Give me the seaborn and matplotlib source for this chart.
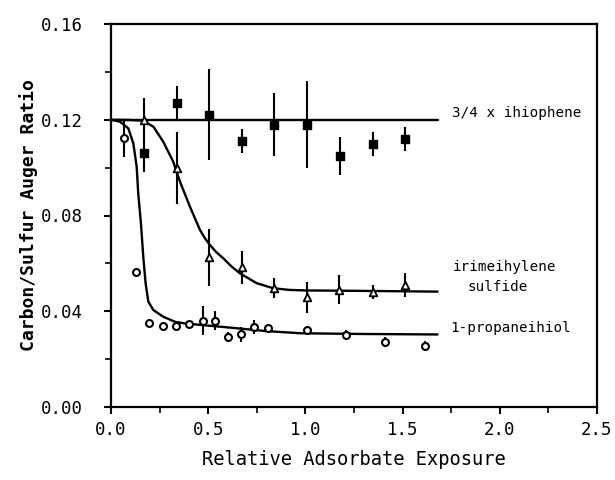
import matplotlib
matplotlib.use("Agg")
import matplotlib.pyplot as plt
import seaborn as sns
from matplotlib.ticker import MultipleLocator, FormatStrFormatter

# ---- data ----
thio_x = [0.171, 0.34, 0.506, 0.672, 0.84, 1.008, 1.18, 1.346, 1.512]
thio_y = [0.106, 0.127, 0.122, 0.111, 0.118, 0.118, 0.105, 0.110, 0.112]
thio_err = [0.008, 0.007, 0.019, 0.005, 0.013, 0.018, 0.008, 0.005, 0.005]

tms_x = [0.171, 0.34, 0.506, 0.672, 0.837, 1.008, 1.175, 1.346, 1.512]
tms_y = [0.120, 0.100, 0.0625, 0.0583, 0.0497, 0.0458, 0.049, 0.048, 0.051]
tms_err = [0.009, 0.015, 0.012, 0.007, 0.004, 0.0065, 0.006, 0.003, 0.005]

prop_x = [0.065, 0.13, 0.198, 0.269, 0.336, 0.403, 0.472, 0.537, 0.604, 0.67,
          0.737, 0.806, 1.008, 1.209, 1.411, 1.615]
prop_y = [0.1125, 0.0565, 0.0352, 0.0338, 0.0338, 0.0347, 0.0361, 0.0361, 0.0293,
          0.0303, 0.0335, 0.0328, 0.032, 0.030, 0.0272, 0.0254]
prop_err = [0.008, 0.0, 0.0, 0.0, 0.0, 0.001, 0.006, 0.004, 0.002, 0.003,
            0.003, 0.002, 0.001, 0.002, 0.002, 0.002]

# fitted curves
thio_fit_x = [0.0, 1.68]
thio_fit_y = [0.12, 0.12]

tms_fit_x = [0.0, 0.1, 0.166, 0.218, 0.269, 0.32, 0.355, 0.406, 0.458, 0.485,
             0.509, 0.54, 0.578, 0.62, 0.664, 0.75, 0.835, 0.92, 1.0, 1.3, 1.68]
tms_fit_y = [0.120, 0.1199, 0.1196, 0.1171, 0.1108, 0.1025, 0.0941, 0.0837,
             0.0739, 0.0703, 0.0677, 0.0648, 0.0621, 0.0587, 0.0558, 0.0517,
             0.0496, 0.0489, 0.0487, 0.0485, 0.0482]

prop_fit_x = [0.0, 0.046, 0.089, 0.115, 0.132, 0.14, 0.154, 0.166, 0.178, 0.192,
              0.218, 0.269, 0.329, 0.381, 0.5, 0.634, 0.8, 0.977, 1.3, 1.68]
prop_fit_y = [0.120, 0.1192, 0.1164, 0.1101, 0.1004, 0.0893, 0.0767, 0.0628,
              0.0517, 0.044, 0.0405, 0.0377, 0.0356, 0.0349, 0.0340, 0.033,
              0.0317, 0.0308, 0.0305, 0.0303]

labels = ["3/4 x ihiophene", "irimeihylene", "sulfide", "1-propaneihiol"]
label_x = [1.753, 1.758, 1.836, 1.744]
label_y = [0.1228, 0.0586, 0.0501, 0.0331]

# ---- plot ----
sns.set_style("ticks")
plt.rcParams['font.family'] = ['DejaVu Sans Mono', 'DejaVu Sans']
plt.rcParams['text.color'] = 'black'
plt.rcParams['axes.labelcolor'] = 'black'

fig = plt.figure(figsize=(6.15, 4.8), dpi=100)
ax = fig.add_axes([111/615, 1-407/480, (597-111)/615, (407-24)/480])

for fx, fy in [(thio_fit_x, thio_fit_y), (tms_fit_x, tms_fit_y), (prop_fit_x, prop_fit_y)]:
    sns.lineplot(x=fx, y=fy, sort=False, estimator=None, color='black', lw=1.7, ax=ax)

for xs, ys, es in [(thio_x, thio_y, thio_err), (tms_x, tms_y, tms_err), (prop_x, prop_y, prop_err)]:
    ax.errorbar(xs, ys, yerr=es, fmt='none', ecolor='black', elinewidth=1.5, capsize=0)

sns.scatterplot(x=thio_x, y=thio_y, marker='s', s=40, color='black',
                edgecolor='black', linewidth=1, ax=ax, zorder=5)
sns.scatterplot(x=tms_x, y=tms_y, marker='^', s=30, facecolor='white',
                edgecolor='black', linewidth=1.3, ax=ax, zorder=5)
sns.scatterplot(x=prop_x, y=prop_y, marker='o', s=25, facecolor='white',
                edgecolor='black', linewidth=1.5, ax=ax, zorder=5)

for t, x, y in zip(labels, label_x, label_y):
    ax.text(x, y, t, fontsize=10.3, va='center', ha='left', color='black')

ax.set_xlim(0, 2.5)
ax.set_ylim(0, 0.16)
ax.xaxis.set_major_locator(MultipleLocator(0.5))
ax.xaxis.set_minor_locator(MultipleLocator(0.25))
ax.yaxis.set_major_locator(MultipleLocator(0.04))
ax.yaxis.set_minor_locator(MultipleLocator(0.02))
ax.xaxis.set_major_formatter(FormatStrFormatter('%.1f'))
ax.yaxis.set_major_formatter(FormatStrFormatter('%.2f'))
ax.tick_params(which='major', direction='out', length=5, width=1.5, labelsize=12.5,
               colors='black', labelcolor='black')
ax.tick_params(which='minor', direction='out', length=4, width=1.2, colors='black')
ax.tick_params(axis='y', which='major', pad=15)
ax.tick_params(axis='x', which='major', pad=5)
for sp in ax.spines.values():
    sp.set_linewidth(1.6)
    sp.set_color('black')

ax.set_xlabel("Relative Adsorbate Exposure", fontsize=13.5, labelpad=8, color='black')
ax.set_ylabel("Carbon/Sulfur Auger Ratio", fontsize=13, fontweight='bold', labelpad=2,
              color='black')

fig.savefig("out.png", dpi=100)
